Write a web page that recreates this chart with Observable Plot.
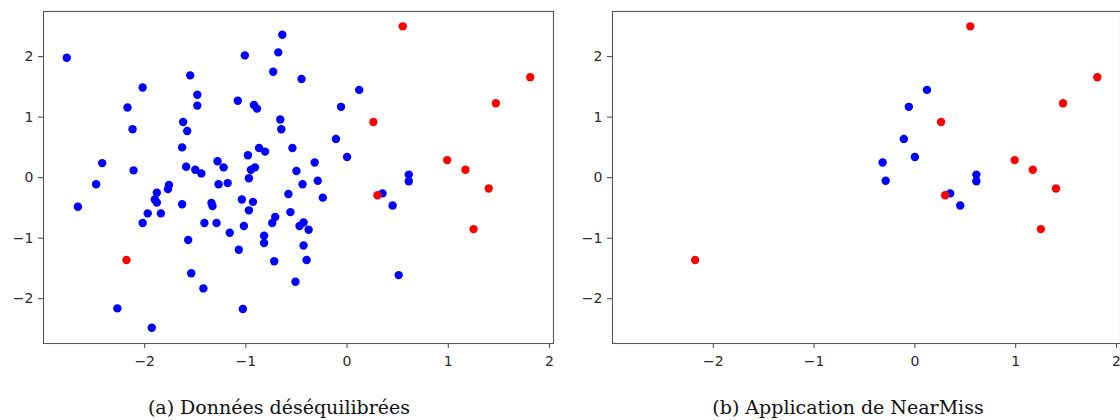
<!DOCTYPE html>
<html>
<head>
<meta charset="utf-8">
<script src="https://cdn.jsdelivr.net/npm/d3@7"></script>
<script src="https://cdn.jsdelivr.net/npm/@observablehq/plot@0.6"></script>
<style>
  body { margin: 0; background: #fff; }
  #wrap { position: relative; width: 1120px; height: 420px; overflow: hidden; background: #fff; }
  .panel { position: absolute; top: 0; }
  .caption {
    position: absolute; top: 398px;
    font-family: "DejaVu Serif", serif; font-size: 19px; line-height: 19px;
    color: #111; white-space: nowrap; transform: translateX(-50%);
  }
</style>
</head>
<body>
<div id="wrap">
  <div class="panel" id="left" style="left:0px"></div>
  <div class="panel" id="right" style="left:560px"></div>
  <div class="caption" style="left:279px">(a) Données déséquilibrées</div>
  <div class="caption" style="left:848px">(b) Application de NearMiss</div>
</div>
<script>
// Majority class (blue), 90 samples
const majorityX = [
  -2.77, -2.02, -2.17, -2.12, -2.42, -2.11, -2.48, -1.55, -1.48, -1.48,
  -1.62, -1.58, -1.63, -1.59, -1.50, -1.44, -1.28, -1.22, -1.27, -1.18,
  -1.08, -1.01, -0.92, -0.89, -0.98, -0.87, -0.81, -0.95, -0.91, -0.97,
  -0.73, -0.68, -0.64, -0.66, -0.65, -0.54, -0.50, -0.44, -0.58, -0.45,
   0.12, -0.06, -0.11,  0.00, -0.32, -0.29, -0.24,  0.61,  0.61,  0.35,
   0.45, -0.56, -0.47, -0.43, -0.38, -0.43, -0.40,  0.51, -0.51, -2.66,
  -1.88, -1.90, -1.88, -1.76, -1.77, -1.97, -1.84, -2.02, -1.63, -1.57,
  -1.54, -1.42, -1.41, -1.29, -1.34, -1.33, -1.16, -1.07, -1.04, -1.02,
  -0.97, -0.93, -1.03, -2.27, -1.93, -0.82, -0.82, -0.74, -0.71, -0.72
];
const majorityY = [
   1.98,  1.49,  1.16,  0.80,  0.24,  0.12, -0.11,  1.69,  1.37,  1.19,
   0.92,  0.77,  0.50,  0.18,  0.13,  0.07,  0.27,  0.17, -0.11, -0.09,
   1.27,  2.02,  1.20,  1.14,  0.37,  0.49,  0.43,  0.13,  0.17, -0.01,
   1.75,  2.07,  2.36,  0.96,  0.80,  0.49,  0.11, -0.11, -0.27,  1.63,
   1.45,  1.17,  0.64,  0.34,  0.25, -0.05, -0.33,  0.05, -0.06, -0.26,
  -0.46, -0.57, -0.80, -0.74, -0.86, -1.12, -1.36, -1.61, -1.72, -0.48,
  -0.25, -0.36, -0.41, -0.12, -0.19, -0.59, -0.59, -0.75, -0.44, -1.03,
  -1.58, -1.83, -0.75, -0.75, -0.42, -0.47, -0.91, -1.19, -0.36, -0.80,
  -0.54, -0.40, -2.17, -2.16, -2.48, -0.96, -1.08, -0.75, -0.65, -1.38
];

// Minority class (red), 10 samples
const minorityX = [0.55, 1.81, 1.47, 0.26, 0.99, 1.17, 1.40, 0.30, 1.25, -2.18];
const minorityY = [2.50, 1.66, 1.23, 0.92, 0.29, 0.13, -0.18, -0.29, -0.85, -1.36];

// Majority samples retained by NearMiss (indices into the majority arrays)
const nearMissKept = [40, 41, 42, 43, 44, 45, 47, 48, 49, 50];

// Axis ticks
const tickValues = [-2, -1, 0, 1, 2];
const tickLabels = ["\u22122", "\u22121", "0", "1", "2"];

const xDomain = [-3.0, 2.04];
const yDomain = [-2.74, 2.745];

const majority = majorityX.map((x, i) => ({x, y: majorityY[i]}));
const minority = minorityX.map((x, i) => ({x, y: minorityY[i]}));
const kept = nearMissKept.map(i => majority[i]);

const fmt = d => tickLabels[tickValues.indexOf(d)];

function scatter(blue, red, marginLeft, marginRight) {
  return Plot.plot({
    width: 560,
    height: 375,
    marginLeft, marginRight,
    marginTop: 11,
    marginBottom: 32,
    x: {domain: xDomain},
    y: {domain: yDomain},
    style: {fontFamily: "DejaVu Sans", fontSize: "14px", color: "#2a2a2a", background: "white"},
    marks: [
      Plot.axisX({ticks: tickValues, tickFormat: fmt, tickSize: 5, tickPadding: 8, label: null, stroke: "#444", fontSize: 14}),
      Plot.axisY({ticks: tickValues, tickFormat: fmt, tickSize: 5, tickPadding: 5, label: null, stroke: "#444", fontSize: 14}),
      Plot.dot(blue, {x: "x", y: "y", r: 4.2, fill: "#0000ff"}),
      Plot.dot(red, {x: "x", y: "y", r: 4.2, fill: "#ff0000"}),
      Plot.frame({stroke: "#555", strokeWidth: 1.1})
    ]
  });
}

document.getElementById("left").append(scatter(majority, minority, 43, 7));
document.getElementById("right").append(scatter(kept, minority, 52, 0));
</script>
</body>
</html>
